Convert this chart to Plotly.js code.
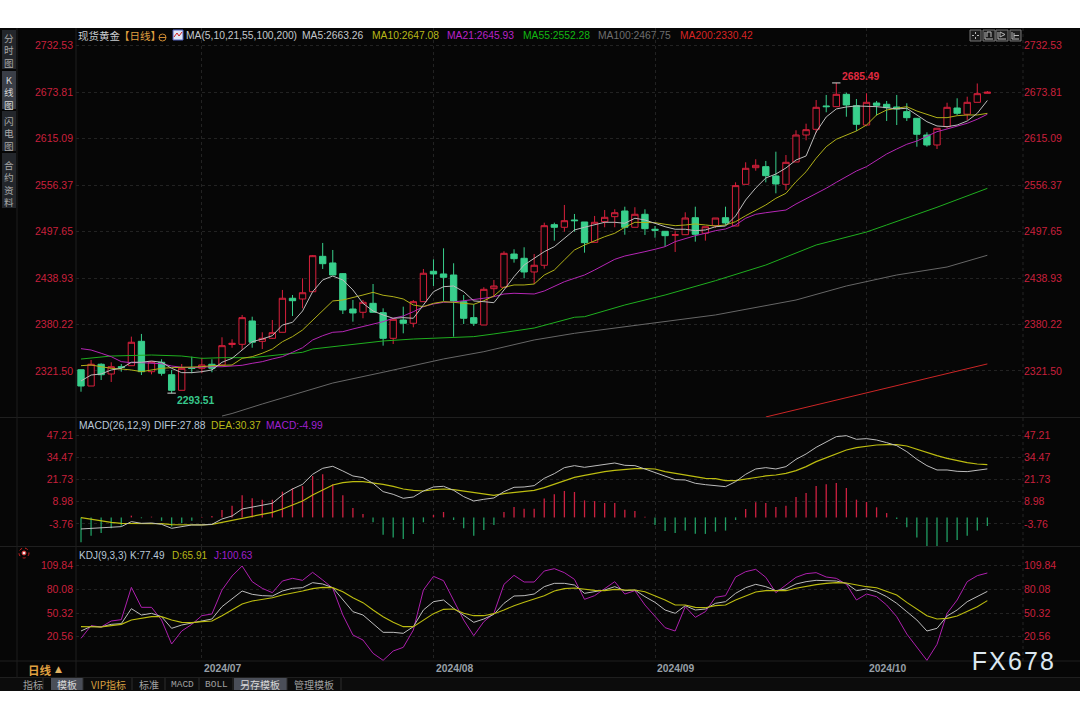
<!DOCTYPE html>
<html><head><meta charset="utf-8">
<script src="https://cdn.plot.ly/plotly-3.0.1.min.js"></script>
<style>html,body{margin:0;padding:0;background:#fff}#c{width:1080px;height:720px}</style>
</head><body><div id="c"></div>
<script>
const open_=[2323.1,2302.5,2330,2317.7,2326.9,2328.2,2359,2320.6,2332.5,2316.8,2297.1,2325.9,2324.9,2330,2329.1,2355,2355.2,2384.7,2359,2362.8,2370.4,2413.4,2412.5,2421.7,2466.4,2458,2444.5,2399.8,2395.7,2407,2395.2,2362.8,2385.9,2381.8,2409.1,2447.5,2444.1,2442.8,2409.1,2388.9,2379.6,2425.5,2427.3,2469.3,2463.9,2446.6,2455.1,2506.4,2503.1,2512.3,2509.8,2484.1,2510.2,2516.5,2523.7,2503.1,2519.5,2500.6,2498,2493,2493.7,2515.2,2495.5,2505.1,2515.2,2504.7,2557.4,2578.4,2579.7,2567.9,2557.4,2585.6,2619.7,2626.9,2656.4,2655.5,2671.1,2656.7,2632.3,2660.1,2658.5,2655.1,2649.2,2640.8,2619.7,2607.1,2630.2,2653.8,2645.9,2661,2672.4];
const high_=[2323.1,2335.4,2331.2,2332.5,2330.3,2364.9,2368.3,2333.3,2336.3,2322.8,2330.3,2339.6,2338.3,2336.3,2364.1,2361.6,2392.3,2390.1,2370.4,2385.9,2423.9,2417.5,2438.6,2468.1,2483.3,2474.4,2445.3,2411.2,2411.2,2431.4,2400.7,2388.5,2402.8,2411.2,2450.4,2462.6,2476.5,2457.6,2417.5,2405.8,2427.3,2436.5,2472.8,2475.3,2477.8,2469.3,2508.9,2508.9,2531.3,2519.9,2509.8,2517.4,2524.9,2525.8,2529.1,2528.4,2525.8,2504.7,2498,2498.8,2522,2529.1,2503.8,2514.8,2529.1,2559.9,2585.2,2589,2586.9,2598.6,2594.4,2625.7,2634,2663.9,2670.3,2685.49,2673.2,2665.2,2672.4,2662.7,2662.7,2670.3,2659.8,2640.8,2623.1,2628.2,2660.5,2666.1,2668.1,2684.8,2675.3];
const low_=[2295.3,2302.5,2310.1,2307.6,2320.6,2328.2,2316.4,2317.3,2315.6,2293.51,2297.1,2318.6,2318.6,2319.9,2329.1,2350.9,2348,2350.9,2349.3,2361.9,2370.4,2391,2400.7,2421.7,2450.4,2442.8,2393.5,2383.8,2388.1,2395.7,2353.5,2355.6,2369.1,2376.7,2409.1,2428.9,2410,2364.9,2380.9,2378.4,2379.6,2415.4,2427.3,2458.4,2438.6,2431.4,2450.8,2486.2,2497.5,2497.5,2471,2484.1,2503.1,2503.1,2493.7,2503.1,2493.4,2489.9,2478.6,2471.9,2493.7,2484.9,2486.2,2502.2,2506,2504.7,2557.4,2574.6,2559.9,2546,2550.2,2585.6,2613,2622.6,2648.4,2655.5,2642.8,2624.8,2632.3,2644.1,2637.4,2632.3,2637.4,2604.9,2604.9,2602,2628.2,2645,2638.7,2661,2672.4];
const close_=[2302.5,2330,2316.8,2326.9,2325.9,2357.8,2320.6,2333.3,2318.6,2297.1,2324.9,2324.6,2329.1,2324.9,2353.5,2356.5,2388.9,2357.8,2362.8,2369.9,2413.4,2410.3,2420.4,2467.2,2457.1,2442.8,2398.6,2394.8,2408.3,2395.7,2362.8,2386.8,2381.8,2409.1,2445,2444.1,2439.9,2410,2388.1,2381.8,2424.7,2428.9,2470.2,2463.4,2446.6,2455.1,2505.1,2503.1,2511.4,2511.4,2483.6,2509.4,2515.7,2521.5,2503.1,2519.5,2501.3,2499.3,2492.5,2493.7,2514.8,2494.2,2503.8,2514.8,2508.5,2555.7,2577.6,2581.4,2568.3,2557.8,2585.2,2619.7,2626.4,2654.7,2655.5,2671.1,2657.6,2633.2,2661,2657.2,2654.2,2652.6,2641.6,2620.6,2607.1,2628.2,2654.7,2647.1,2661,2671.9,2673.7];
const ma5=[2308.9,2316.4,2317.7,2322.8,2324.9,2332.5,2332.5,2334.1,2332.5,2324.9,2319.4,2319.4,2320.6,2322.8,2332.5,2337.5,2348,2358.5,2361.9,2366.1,2379.6,2383,2397.3,2421.7,2436.5,2441.5,2436.5,2423.9,2407,2397.3,2392.3,2388.1,2388.9,2388.1,2404.9,2421.7,2428,2428.9,2421.7,2410,2409.1,2407.8,2423.9,2440.7,2455.4,2463.9,2472.3,2478.6,2489.2,2499.7,2503.1,2506,2509.4,2509.4,2508.1,2514.5,2512.3,2508.1,2503.8,2500.6,2500.6,2498.8,2499.7,2503.8,2504.7,2517.4,2537.6,2552.7,2565.4,2570.4,2578,2588.1,2593.2,2623.5,2642.5,2652.6,2655.1,2656.4,2656.4,2655.5,2654.2,2652.6,2653.5,2645,2636.5,2631.1,2630.2,2632.3,2637.4,2647.1,2663.26];
const ma10=[2328.2,2329.1,2326.9,2324.9,2324,2322.8,2320.6,2322.8,2324.9,2325.7,2326.2,2326.2,2326.9,2328.2,2329.1,2329.1,2337.5,2339.6,2343.9,2349.3,2358.5,2364.9,2373.3,2385.9,2398.6,2410,2411.2,2414.1,2417.5,2420.9,2417.2,2415.4,2412.5,2404.9,2402.8,2407,2409.1,2408.3,2407,2405.8,2410.3,2416.3,2427.3,2430.2,2430.2,2431.4,2442.8,2449.1,2461.8,2474.4,2480.7,2486.2,2491.2,2495.5,2503.1,2509.4,2509.4,2508.9,2506.9,2505.1,2506,2507.3,2506,2504.7,2506,2510.2,2517.7,2524.9,2531.3,2539.7,2546,2560.7,2573.3,2590.3,2604.9,2614.3,2619.7,2624.8,2632.3,2645,2651.3,2653.5,2655.5,2650,2645.9,2641.6,2641.6,2644.1,2645,2645,2647.08];
const ma21=[2349.7,2348,2343.9,2339.6,2333.3,2332,2332,2331.2,2330.7,2327.8,2326.2,2325.7,2326.6,2326.9,2326.9,2327.4,2328.7,2331.2,2333.3,2336.7,2339.6,2345.1,2350.9,2360.7,2366.1,2370.4,2371.2,2374.6,2377.5,2381.3,2383.8,2388.1,2391,2396.4,2402.8,2406.2,2408.3,2408.7,2410,2412.1,2413.4,2415.4,2418.8,2419.7,2418.8,2418.8,2422.6,2428,2434.3,2438.6,2442.8,2449.1,2455.4,2462.6,2466.8,2469.3,2472.3,2475.3,2478.6,2484.9,2489.2,2492.5,2495.5,2498.8,2500.9,2506,2514.5,2519.5,2521.5,2522.8,2524.9,2532.5,2538.8,2545.2,2552.4,2559.9,2567,2574.2,2579.7,2588.1,2595.7,2602,2608,2612.1,2618.4,2623.9,2627.3,2631.1,2634.5,2639.6,2645.93];
const ma55Days=[0,3,7,10,12,14,17,19,22,23,26,30,33,37,39,41,45,49,50,54,58,63,68,73,78,80,85,90];
const ma55=[2336.6,2340.4,2341.7,2340.4,2337.5,2338.3,2338.3,2340.8,2345.1,2349.3,2353.5,2359.4,2361.9,2364.5,2364.9,2368.3,2375.8,2389.4,2390.1,2404.9,2417.5,2435.6,2455.4,2480.7,2497.1,2506,2528.4,2552.28];
const ma100Days=[14,15,18,21,25,30,36,40,45,49,56,63,71,76,81,86,90];
const ma100=[2264.6,2267.8,2279.8,2291.2,2306.3,2319.9,2336.7,2345.9,2360.7,2369.1,2380.9,2392.3,2411.2,2428.9,2442.8,2452.9,2467.75];
const ma200Days=[68,75,82,90];
const ma200=[2263.4,2284.9,2306.3,2330.42];
const macdHist=[-14.3,-10.5,-9,-6.3,-4.8,1,-0.5,0.4,-2,-5.3,-3.4,-2,0.2,0.8,4.3,6.7,12.7,11,10.2,10.2,14.8,16.7,18,23.8,24.8,19,12.7,5.4,2,-2.8,-10,-11.6,-12.4,-9.5,-2.8,1.4,3.1,-1.5,-6.3,-10.5,-7.2,-4.4,3.1,6,5,5,10.8,13.3,15.2,14.6,9.8,9.4,8.3,8.3,4.4,3.7,0.3,-4.4,-7.8,-9,-7.6,-9.4,-9.5,-8.2,-7.6,-1.5,4.8,8.7,8.3,6,6.7,11.7,14,18,19,19.8,16.9,10.2,8.9,5.8,2.5,-0.9,-5.7,-11.5,-16.8,-16.8,-14.1,-13,-10.5,-7.6,-4.99];
const diff=[-6.66,-6.28,-6.28,-5.7,-5.32,-2.44,-3.4,-3.21,-3.98,-6.28,-5.32,-4.36,-4.36,-3.98,-0.91,0.81,4.84,6,7.14,8.1,12.9,16.34,19.03,24.78,28.23,29.38,26.69,23.82,22.86,19.6,14.81,13.27,10.98,11.74,15.19,17.49,17.88,15.58,11.93,9.44,10.4,11.17,14.81,17.3,17.49,18.26,22.48,25.16,28.61,29.76,28.8,29.57,30.34,31.3,29.95,29.76,27.84,25.93,23.63,21.71,21.52,19.6,18.83,18.26,17.68,20.56,24.78,27.84,28.61,27.84,29.19,33.4,36.47,40.3,43.18,46.44,47.01,44.91,45.29,44.52,42.99,41.26,37.81,33.4,29.76,27.27,27.27,26.5,26.31,27.27,27.88];
const dea=[-0.14,-1.1,-2.06,-2.83,-3.4,-3.4,-3.4,-3.4,-3.59,-4.17,-4.36,-4.36,-4.36,-3.98,-2.83,-1.68,-0.53,0.81,1.77,2.92,4.84,7.14,9.44,12.89,15.96,18.64,20,20.56,20.56,20,19.03,17.88,16.34,15.58,15.19,15.96,16.34,15.96,15.19,14.04,13.27,12.7,13.66,14.43,15,15.58,17.11,19.03,21.33,23.05,24.2,25.35,26.31,27.08,27.65,28.04,28.04,27.84,26.31,25.35,24.39,23.24,22.48,22.29,21.13,21.13,22.09,23.05,23.82,24.39,25.35,26.89,29.19,32.06,34.36,36.85,38.77,40.11,41.07,41.65,41.84,41.84,41.07,39.15,37.24,35.51,33.98,32.64,31.49,30.72,30.37];
const kdjK=[27.69,33.56,32.72,36.07,36.91,55.77,47.81,49.91,45.71,31.05,35.24,37.75,41.1,42.78,58.29,67.93,77.98,73.79,72.12,71.7,77.98,81.34,82.17,88.46,86.79,82.17,66.67,52,47.81,37.33,26.02,26.02,24.76,33.14,54.09,64.57,66.67,56.19,47.81,38.59,42.78,48.65,62.48,71.7,72.12,74.21,83.43,87.62,87.62,85.53,75.05,77.15,79.24,83.43,78.4,79.24,70.86,63.73,54.09,49.91,59.54,54.09,55.35,62.48,64.57,75.05,82.17,86.37,83.43,78.4,80.5,86.79,89.72,91.4,90.98,90.56,87.62,78.4,80.5,77.15,70.86,62.48,52,41.52,27.69,31.05,46.55,54.09,64.57,70.86,77.49];
const kdjD=[33.14,33.14,32.72,34.4,36.07,41.52,44.04,45.71,45.71,41.52,38.59,38.17,39.43,40.26,46.97,54.09,61.64,65.41,67.51,69.6,72.96,75.05,77.98,80.92,82.6,82.17,77.15,69.6,63.32,54.09,45.71,38.59,33.14,33.14,41.52,49.49,54.93,55.35,49.91,46.97,46.97,49.49,54.09,59.54,63.73,67.93,72.12,77.98,80.92,81.76,80.08,78.82,78.4,80.08,79.24,79.24,77.15,72.12,66.67,60.38,60.38,57.45,57.03,59.54,60.38,66.67,71.7,76.73,78.4,78.4,78.4,81.34,83.85,85.95,87.62,88.46,88.04,85.53,83.43,82.17,77.98,72.96,63.73,55.35,46.97,42.78,43.62,46.55,52,58.29,65.91];
const kdjJ=[18.47,34.4,32.72,40.26,41.94,82.6,57.45,57.45,41.52,11.35,27.69,36.07,46.97,49.06,79.24,96.84,109.42,89.72,81.34,75.89,90.56,93.91,91.4,101.45,91.81,81.34,47.81,22.66,16.38,-0.39,-9.19,2.55,7.16,28.95,79.24,96.42,90.98,66.67,41.52,21.82,39.43,49.91,86.37,97.68,89.3,89.3,103.13,106.06,101.03,92.65,67.51,72.12,80.5,89.72,74.21,78.4,60.38,46.13,31.88,27.69,58.29,44.87,52,70.02,72.12,95.59,102.29,105.23,95.17,75.89,85.53,95.17,99.78,101.03,95.59,93.91,86.37,66.67,74.21,70.86,60.38,45.71,23.92,8,-9.19,10.93,49.91,66.67,89.72,97.26,100.63];
const priceTicks=[2732.53,2673.81,2615.09,2556.37,2497.65,2438.93,2380.22,2321.50];
const macdTicks=[47.21,34.47,21.73,8.98,-3.76];
const kdjTicks=[109.84,80.08,50.32,20.56];
const monthSessions=[12,35,57,78];
const monthLabels=['2024/07','2024/08','2024/09','2024/10'];
const extremeSessions=[75,9];
const extremeValues=[2685.49,2293.51];

const sessions=close_.map((_,i)=>i);
const RED='#d8203c',GRN='#38cf8c',AXR='#c9203c',BG='#060606',GRID='#222222',F='"Liberation Sans","Noto Sans CJK SC",sans-serif',CJK='"Noto Sans CJK SC",sans-serif';
const X=x=>x/1080,Y=y=>1-y/720;
const fmt=s=>s.map(v=>v.toFixed(2));
const line=(x,y,c,ya,w,name)=>({type:'scatter',mode:'lines',x,y,xaxis:'x',yaxis:ya,name,line:{color:c,width:w||1},hoverinfo:'skip'});
const traces=[
 {type:'candlestick',x:sessions,open:open_,high:high_,low:low_,close:close_,xaxis:'x',yaxis:'y',whiskerwidth:0,
  increasing:{line:{color:RED,width:1},fillcolor:BG},decreasing:{line:{color:GRN,width:1},fillcolor:GRN},hoverinfo:'skip'},
 line(ma100Days,ma100,'#666666','y2',1,'MA100'),
 line(ma200Days,ma200,'#cc2626','y2',1,'MA200'),
 line(ma55Days,ma55,'#1fae1f','y2',1,'MA55'),
 line(sessions,ma21,'#b526b5','y2',1,'MA21'),
 line(sessions,ma10,'#b0b018','y2',1,'MA10'),
 line(sessions,ma5,'#bcbcbc','y2',1,'MA5'),
 {type:'scatter',mode:'markers',x:extremeSessions,y:extremeValues,xaxis:'x',yaxis:'y2',marker:{symbol:'line-ew',size:6,line:{color:'#d8d8d8',width:1}},hoverinfo:'skip'},
 {type:'bar',x:sessions,y:macdHist,xaxis:'x',yaxis:'y3',width:0.13,marker:{color:macdHist.map(v=>v>=0?'#cc2040':'#209c62'),line:{width:0}},hoverinfo:'skip'},
 line(sessions,dea,'#bcbc10','y4',1.2,'DEA'),
 line(sessions,diff,'#bcbcbc','y4',1,'DIFF'),
 line(sessions,kdjJ,'#ad1fad','y5',1,'J'),
 line(sessions,kdjK,'#bcbcbc','y6',1,'K'),
 line(sessions,kdjD,'#bcbc10','y6',1.1,'D')
];
const pnl=(y0,y1,lo,hi,ticks,side,ov)=>{const a={range:[lo,hi],tickmode:'array',tickvals:ticks,ticktext:fmt(ticks),tickfont:{family:F,size:10.5,color:AXR},ticklen:0,ticks:'',zeroline:false,fixedrange:true,showline:false,side:side,ticklabelstandoff:side==='left'?2:0};
 if(ov){a.overlaying=ov;a.anchor='x';a.showgrid=false;}else{a.domain=[Y(y1),Y(y0)];a.anchor='x';a.showgrid=true;a.gridcolor=GRID;a.griddash='dot';a.gridwidth=1;}
 return a;};
const pr=p=>2790.28-1.2636*p, mc=p=>297.6-0.5752*p, kj=p=>135.82-0.4191*(p-545)*3;
const layout={width:1080,height:720,margin:{l:0,r:0,t:0,b:0,pad:0,autoexpand:false},paper_bgcolor:'#ffffff',plot_bgcolor:'rgba(0,0,0,0)',showlegend:false,barmode:'overlay',boxgap:0.1,hovermode:false,
 xaxis:{domain:[X(76),X(1023)],range:[-0.497,93.54],anchor:'y5',tickmode:'array',tickvals:monthSessions,ticktext:monthLabels,showticklabels:false,ticks:'',showgrid:true,gridcolor:GRID,griddash:'dot',zeroline:false,rangeslider:{visible:false},fixedrange:true},
 yaxis:pnl(28,417,pr(417),pr(28),priceTicks,'left'),
 yaxis2:pnl(28,417,pr(417),pr(28),priceTicks,'right','y'),
 yaxis3:pnl(418,546,mc(546),mc(418),macdTicks,'left'),
 yaxis4:pnl(418,546,mc(546),mc(418),macdTicks,'right','y3'),
 yaxis5:pnl(547,661,kj(661),kj(547),kdjTicks,'left'),
 yaxis6:pnl(547,661,kj(661),kj(547),kdjTicks,'right','y5'),
 shapes:[],annotations:[]};
const S=(o)=>layout.shapes.push(Object.assign({xref:'paper',yref:'paper',layer:'below'},o));
const rect=(x0,y0,x1,y1,fill,lc)=>S({type:'rect',x0:X(x0),x1:X(x1),y0:Y(y0),y1:Y(y1),fillcolor:fill,line:lc?{color:lc,width:1}:{width:0}});
const seg=(x0,y0,x1,y1,c,layer)=>S({type:'line',x0:X(x0),x1:X(x1),y0:Y(y0),y1:Y(y1),line:{color:c,width:1},layer:layer||'below'});
const T=(x,y,text,color,size,anchor,fam,extra)=>layout.annotations.push(Object.assign({xref:'paper',yref:'paper',x:X(x),y:Y(y),text,showarrow:false,xanchor:anchor||'left',yanchor:'middle',borderpad:0,font:{family:fam||F,size:size||10.3,color:color||'#c4c8cc'}},extra||{}));

rect(0,28,1080,691,BG);
rect(0,678,1080,691,'#0c0c0c');
['417.5','546.5','661','677.5'].forEach(y=>seg(0,+y,1080,+y,'#1f1f1f'));
seg(17,28,17,678,'#1c1c1c');seg(76,28,76,661,'#1f1f1f');
S({type:'line',x0:X(1023),x1:X(1023),y0:Y(28),y1:Y(661),line:{color:'#242424',width:1,dash:'dot'}});
seg(76,661,76,677,'#1f1f1f');

// left tabs
const tabs=[{c:'分<br>时<br>图',y:[30,69],m:51,on:false},{c:'K<br>线<br>图',y:[71,109],m:92,on:true},{c:'闪<br>电<br>图',y:[111,151],m:133,on:false},{c:'合<br>约<br>资<br>料',y:[153,208],m:183,on:false}];
tabs.forEach(t=>{rect(2,t.y[0],16,t.y[1],t.on?'#3a3e47':'#23262b');T(9,t.m,t.c,t.on?'#d6d6d6':'#a8a8a8',9.6,'center',CJK);});

// header
T(77,35.5,'现货黄金','#c8ccd0',10.5,'left',CJK);
T(118,35.5,'【日线】','#e0a040',10.5,'left',CJK);
S({type:'circle',x0:X(159),x1:X(166),y0:Y(34),y1:Y(41),line:{color:'#d08a30',width:1},fillcolor:'rgba(0,0,0,0)'});
seg(159,37.5,166,37.5,'#d08a30');
rect(173,30,183,40,'#dfe6f5','#5060c0');
S({type:'path',path:`M ${X(174)} ${Y(37)} L ${X(177)} ${Y(33)} L ${X(179)} ${Y(36)} L ${X(182)} ${Y(32)}`,line:{color:'#d02020',width:1}});
T(184.5,35.5,'MA(5,10,21,55,100,200)','#c4c8cc');
T(300.5,35.5,'MA5:2663.26','#c4c8cc');
T(370.5,35.5,'MA10:2647.08','#b8b818');
T(445.5,35.5,'MA21:2645.93','#b822c8');
T(521.5,35.5,'MA55:2552.28','#12b812');
T(596.5,35.5,'MA100:2467.75','#6e6e6e');
T(678.5,35.5,'MA200:2330.42','#d82424');
// extreme labels
T(840.5,77,'2685.49','#e02a40',10.5,'left',F,{font:{family:F,size:10.3,color:'#e02a40',weight:700}});
T(175.5,400,'2293.51','#38c88c',10.5,'left',F,{font:{family:F,size:10.3,color:'#38c88c',weight:700}});
// indicator heads
T(77.5,425,'MACD(26,12,9)','#b8c8d8');T(152.5,425,'DIFF:27.88','#b8c8d8');T(209.5,425,'DEA:30.37','#b8b818');T(264.5,425,'MACD:-4.99','#a020d0');
T(77.5,555,'KDJ(9,3,3)','#b8c8d8',10);T(128.5,555,'K:77.49','#b8c8d8',10);T(170.5,555,'D:65.91','#b8b818',10);T(212.5,555,'J:100.63','#a020d0',10);
// red icon
S({type:'circle',x0:X(19),x1:X(29),y0:Y(548),y1:Y(558),fillcolor:'rgba(0,0,0,0)',line:{color:'#d02020',width:1,dash:'dot'}});
S({type:'circle',x0:X(22),x1:X(26),y0:Y(551),y1:Y(555),fillcolor:'#f4e8e8',line:{color:'#d02020',width:1}});
// top-right buttons
[[970,981],[983,995],[996,1008],[1010,1021]].forEach(b=>rect(b[0],30,b[1],41,'#1c1c1c','#777'));
[[975.5,32,975.5,34],[975.5,37,975.5,39],[972,35.5,974,35.5],[977,35.5,979,35.5],[985,32,985,39],[985,39,993,39],[987,32,987,37],[987,32,991,32],[991,32,991,37],[998,32,998,39],[998,39,1006,39],[1000,32,1000,37],[1000,32,1005,34.5],[1000,37,1005,34.5],[1012,32,1012,39],[1012,39,1019,39],[1014,33,1014,38],[1014,35.5,1019,35.5]].forEach(s=>seg(s[0],s[1],s[2],s[3],'#b8b8b8','above'));
// month labels
monthLabels.forEach((m,i)=>T(81+10.07*monthSessions[i]+1.5,668.5,m,'#98a0a8',10.5,'left',F,{font:{family:F,size:10.3,color:'#98a0a8',weight:700}}));
T(27,670,'日线','#e0a040',11.5,'left',CJK,{font:{family:CJK,size:11.5,color:'#e0a040',weight:700}});
T(54,669,'▲','#e0b060',9,'left','"DejaVu Sans"');
// bottom tabs
rect(51,678,83,690,'#4a4e58');rect(234,678,287,690,'#4a4e58');
[[33,'指标','#a0a0a0',CJK],[67,'模板','#d8d8d8',CJK],[108,'VIP指标','#d8a040',CJK],[149,'标准','#a0a0a0',CJK],[182,'MACD','#a0a0a0','"Liberation Mono"'],[216,'BOLL','#a0a0a0','"Liberation Mono"'],[260,'另存模板','#d8d8d8',CJK],[314,'管理模板','#a0a0a0',CJK]].forEach(t=>T(t[0],684,t[1],t[2],t[3]===CJK?10:9.5,'center',t[3]));
[[43,678,43,690],[83,678,83,690],[132,678,132,690],[165,678,165,690],[199,678,199,690],[233,678,233,690],[287,678,287,690],[341,678,341,690]].forEach(s=>seg(s[0],s[1],s[2],s[3],'#2c2c2c'));
// watermark
T(976,661,'FX678','#dce8f0',25,'left',F);

Plotly.newPlot('c',traces,layout,{displayModeBar:false,staticPlot:true}).then(()=>{
 document.querySelectorAll('#c .annotation-text').forEach(n=>{if(n.textContent==='FX678')n.style.letterSpacing='2.1px';});
});
</script></body></html>
